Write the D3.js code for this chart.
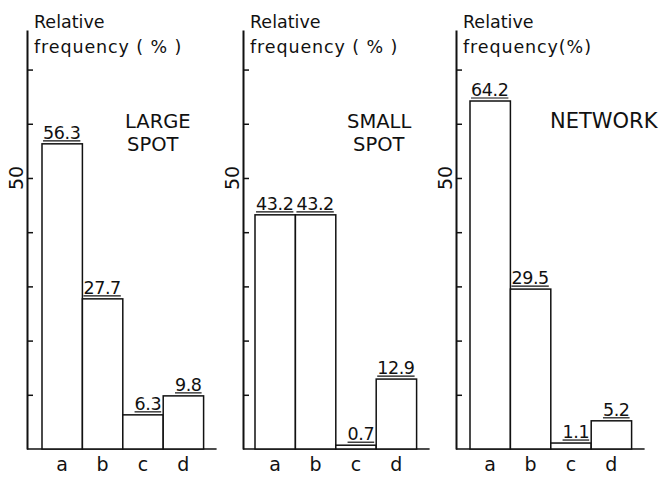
<!DOCTYPE html>
<html>
<head>
<meta charset="utf-8">
<script src="https://cdn.jsdelivr.net/npm/d3@7/dist/d3.min.js"></script>
<style>
  html, body { margin: 0; padding: 0; background: #fff; }
  svg { display: block; }
  text { font-family: "DejaVu Sans", sans-serif; fill: #111; }
</style>
</head>
<body>
<svg id="chart" width="665" height="477"></svg>
<script>
// ---- data ----
const categories = ["a", "b", "c", "d"];
const panelTitles = [["LARGE", "SPOT"], ["SMALL", "SPOT"], ["NETWORK"]];
const largeSpot = [56.3, 27.7, 6.3, 9.8];
const smallSpot = [43.2, 43.2, 0.7, 12.9];
const network = [64.2, 29.5, 1.1, 5.2];
const yTicks = [10, 20, 30, 40, 50, 60, 70];
const yLabelledTicks = [50];
const axisTitleLines = [["Relative", "frequency ( % )"], ["Relative", "frequency ( % )"], ["Relative", "frequency(%)"]];

const seriesList = [largeSpot, smallSpot, network];

// ---- layout ----
const svg = d3.select("#chart");
const baseY = 449, topY = 30;
const y = d3.scaleLinear().domain([0, 77.3]).range([baseY, topY]);
const panelX = [27, 243, 456];
const barStart = [15, 12, 14];
const barW = 40.4;
const titleFont = [19.5, 19.5, 21];
const titlePos = [
  [[98, 128], [100, 151]],
  [[104, 128], [110, 151]],
  [[94, 128]]
];

seriesList.forEach((vals, p) => {
  const x0 = panelX[p];
  const g = svg.append("g").attr("transform", `translate(${x0},0)`);
  const x = d3.scaleBand().domain(categories)
    .range([barStart[p], barStart[p] + barW * categories.length]).padding(0);
  const data = categories.map((c, i) => ({ c, v: vals[i] }));

  // baseline
  g.append("line")
    .attr("x1", 0).attr("x2", barStart[p] + barW * 4 + 13)
    .attr("y1", baseY).attr("y2", baseY)
    .attr("stroke", "#111").attr("stroke-width", 1.7);

  // bars
  g.selectAll("rect.bar").data(data).enter().append("rect")
    .attr("class", "bar")
    .attr("x", d => x(d.c))
    .attr("y", d => y(d.v))
    .attr("width", x.bandwidth())
    .attr("height", d => baseY - y(d.v))
    .attr("fill", "#fff")
    .attr("stroke", "#111")
    .attr("stroke-width", 1.5);

  // value labels (underlined, right-aligned to bar)
  const lab = g.selectAll("g.vlab").data(data).enter().append("g").attr("class", "vlab");
  lab.append("text")
    .attr("x", d => x(d.c) + x.bandwidth() - 2)
    .attr("y", d => y(d.v) - 5)
    .attr("text-anchor", "end")
    .attr("font-size", 17.5)
    .attr("letter-spacing", -0.4)
    .text(d => d.v.toFixed(1));
  lab.each(function () {
    const t = d3.select(this).select("text");
    const bb = t.node().getBBox();
    d3.select(this).append("line")
      .attr("x1", bb.x).attr("x2", bb.x + bb.width)
      .attr("y1", +t.attr("y") + 2).attr("y2", +t.attr("y") + 2)
      .attr("stroke", "#111").attr("stroke-width", 1.2);
  });

  // y axis (ticks pointing inward)
  const ax = g.append("g")
    .call(d3.axisRight(y).tickValues(yTicks).tickSize(6).tickSizeOuter(0).tickFormat(""));
  ax.select(".domain").attr("stroke", "#111").attr("stroke-width", 2);
  ax.selectAll(".tick line").attr("stroke", "#111").attr("stroke-width", 1.5);

  // "50" rotated tick label
  g.selectAll("text.ylab").data(yLabelledTicks).enter().append("text")
    .attr("class", "ylab")
    .attr("transform", d => `translate(-4,${y(d)}) rotate(-90)`)
    .attr("text-anchor", "middle")
    .attr("font-size", 19)
    .text(d => d);

  // category axis
  const bx = g.append("g").attr("transform", `translate(0,${baseY})`)
    .call(d3.axisBottom(x).tickSize(0).tickPadding(9));
  bx.select(".domain").remove();
  bx.selectAll("text").attr("font-size", 19).attr("font-family", "DejaVu Sans, sans-serif").attr("fill", "#111");

  // axis title
  const tl = axisTitleLines[p];
  g.append("text").attr("x", 7).attr("y", 28).attr("font-size", 17.5).text(tl[0]);
  g.append("text").attr("x", 7).attr("y", 53).attr("font-size", 17.5)
    .attr("letter-spacing", 0.9).text(tl[1]);

  // panel title
  panelTitles[p].forEach((line, i) => {
    g.append("text")
      .attr("x", titlePos[p][i][0]).attr("y", titlePos[p][i][1])
      .attr("font-size", titleFont[p]).text(line);
  });
});
</script>
</body>
</html>
